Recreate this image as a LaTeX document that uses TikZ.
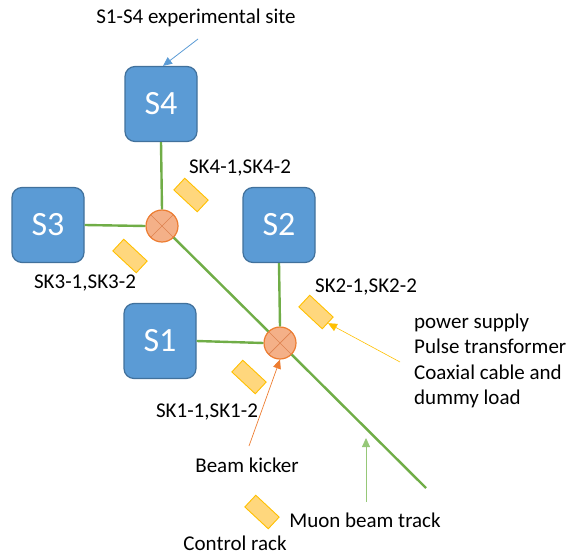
\documentclass[tikz,border=0pt]{standalone}
\usepackage{fontspec}
\setmainfont{Carlito}
\usetikzlibrary{arrows.meta}
\definecolor{siteblue}{RGB}{91,155,213}
\definecolor{siteedge}{RGB}{65,113,156}
\definecolor{trackgreen}{RGB}{112,173,71}
\definecolor{lightgreen}{RGB}{150,200,120}
\definecolor{kickfill}{RGB}{244,176,136}
\definecolor{kickedge}{RGB}{237,125,49}
\definecolor{kickcross}{RGB}{222,130,80}
\definecolor{rackfill}{RGB}{255,215,125}
\definecolor{rackedge}{RGB}{255,192,0}
\tikzset{
  site/.style={draw=siteedge, line width=1.2pt, fill=siteblue, rounded corners=10pt,
    minimum width=72pt, minimum height=75pt, text=white, font=\fontsize{34}{40}\selectfont},
  kicker/.style={circle, draw=kickedge, line width=1.2pt, fill=kickfill, minimum size=32pt, inner sep=0pt},
  rack/.style={draw=rackedge, line width=0.9pt, fill=rackfill, minimum width=32pt, minimum height=16pt,
    inner sep=0pt, rotate=-43},
  lbl/.style={font=\fontsize{21}{25.5}\selectfont, inner sep=0pt},
  track/.style={draw=trackgreen, line width=2.4pt},
  tip/.style={-{Triangle[length=9pt,width=8pt]}}
}
\begin{document}
\begin{tikzpicture}[x=1pt,y=-1pt]
\useasboundingbox (0,0) rectangle (577,556);

% experimental sites
\node[site] (S4) at (161,104) {S4};
\node[site] (S3) at (48,225) {S3};
\node[site] (S2) at (279,225) {S2};
\node[site] (S1) at (160,341) {S1};

% beam kickers
\node[kicker] (K4) at (162,226) {};
\node[kicker] (K1) at (280,343) {};
\draw[kickcross, line width=0.7pt] (K4.north east) -- (K4.south west) (K4.north west) -- (K4.south east);
\draw[kickcross, line width=0.7pt] (K1.north east) -- (K1.south west) (K1.north west) -- (K1.south east);

% beam lines
\coordinate (trackend) at (426,488);
\draw[track] (S4.south) -- (K4.north);
\draw[track] (S3.east) -- (K4.west);
\draw[track] (S2.south) -- (K1.north);
\draw[track] (S1.east) -- (K1.west);
\draw[track] (K4) -- (K1);
\draw[track] (K1) -- (trackend);

% power supply racks
\node[rack] (SK4) at (191,195) {};
\node[rack] (SK3) at (130,256) {};
\node[rack] (SK2) at (316,312) {};
\node[rack] (SK1) at (249,377) {};
\node[rack] (CR) at (262,512) {};

% labels
\node[lbl] (title) at (196,18) {S1-S4 experimental site};
\node[lbl] (l4) at (240,168) {SK4-1,SK4-2};
\node[lbl] (l3) at (85,283) {SK3-1,SK3-2};
\node[lbl] (l2) at (366,287) {SK2-1,SK2-2};
\node[lbl] (l1) at (207,412) {SK1-1,SK1-2};
\node[lbl, align=left, anchor=west] (ps) at (414,361) {power supply\\Pulse transformer\\Coaxial cable and\\dummy load};
\node[lbl] (bk) at (247,465) {Beam kicker};
\node[lbl] (mb) at (365,520) {Muon beam track};
\node[lbl] (cr) at (235,543) {Control rack};

% pointers
\coordinate (titlefoot) at (198,39);
\coordinate (psfoot) at (400,362);
\coordinate (bkfoot) at (249,446);
\coordinate (mbfoot) at (366,502);
\coordinate (mbtip) at (366,438);
\draw[tip, siteblue, line width=0.8pt] (titlefoot) -- ([xshift=2pt]S4.north);
\draw[tip, rackedge, line width=0.6pt] (psfoot) -- (SK2.east);
\draw[tip, kickedge, line width=0.7pt] (bkfoot) -- (K1.south);
\draw[tip, lightgreen, line width=0.8pt] (mbfoot) -- (mbtip);
\end{tikzpicture}
\end{document}
